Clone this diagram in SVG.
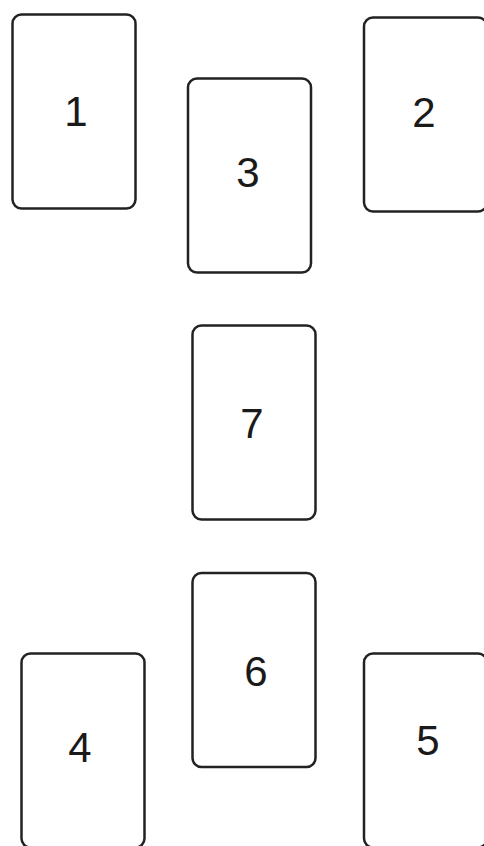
<svg xmlns="http://www.w3.org/2000/svg" width="484" height="846" viewBox="0 0 484 846">
<style>
.card{fill:#fff;stroke:#222;stroke-width:2.5}
.lbl{font-family:"Liberation Sans",Arial,sans-serif;font-size:42px;fill:#1a1a1a;text-anchor:middle}
</style>
<rect width="484" height="846" fill="#fff"/>
<g id="card1"><rect class="card" x="12.5" y="14.5" width="123" height="194" rx="9"/><text class="lbl" x="76" y="126">1</text></g>
<g id="card3"><rect class="card" x="188" y="78.5" width="123" height="194" rx="9"/><text class="lbl" x="248" y="187">3</text></g>
<g id="card2"><rect class="card" x="364" y="17.5" width="123" height="194" rx="9"/><text class="lbl" x="424" y="127">2</text></g>
<g id="card7"><rect class="card" x="192.5" y="325.5" width="123" height="194" rx="9"/><text class="lbl" x="252" y="438">7</text></g>
<g id="card6"><rect class="card" x="192.5" y="573" width="123" height="194" rx="9"/><text class="lbl" x="256" y="686">6</text></g>
<g id="card4"><rect class="card" x="21.5" y="653.5" width="123" height="194" rx="9"/><text class="lbl" x="80" y="762">4</text></g>
<g id="card5"><rect class="card" x="364" y="653.5" width="123" height="194" rx="9"/><text class="lbl" x="428" y="755">5</text></g>
<g id="connectors"></g>
</svg>
